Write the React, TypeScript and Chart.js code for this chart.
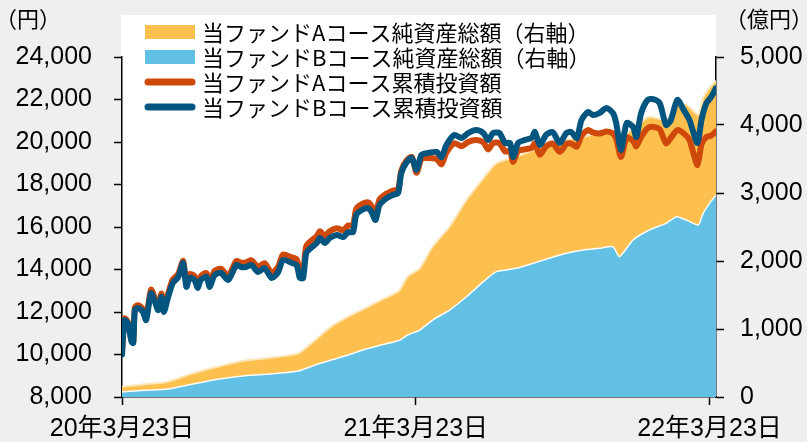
import React, { useEffect, useRef } from "react";
import { Chart, registerables } from "chart.js";

Chart.register(...registerables);

// x values: days since 2020-03-23
const lineDays = [
  0, 3, 7, 12, 14, 16, 20, 26, 30, 36,
  41, 45, 49, 52, 57, 63, 70, 76, 80, 84,
  90, 94, 98, 105, 109, 115, 123, 132, 142, 148,
  154, 161, 169, 177, 186, 194, 200, 211, 217, 221,
  225, 229, 236, 242, 246, 252, 258, 267, 275, 281,
  287, 291, 298, 306, 310, 315, 320, 329, 337, 343,
  347, 353, 360, 366, 372, 380, 391, 397, 403, 413,
  422, 430, 440, 449, 455, 461, 469, 476, 482, 486,
  492, 500, 509, 513, 519, 527, 535, 544, 552, 558,
  565, 571, 579, 585, 593, 602, 610, 614, 620, 627,
  635, 639, 645, 653, 660, 668, 676, 682, 690, 698,
  705, 709, 715, 720, 726, 732, 738,
];

// 当ファンドAコース累積投資額 (円)
const courseACumulative = [
  10050, 11700, 11550, 10650, 10600, 12220, 12320, 12130, 11760, 13050,
  12620, 12240, 12870, 12160, 12820, 13520, 13800, 14400, 13380, 13780,
  13690, 13320, 13690, 13830, 13370, 13930, 14030, 13700, 14400, 14320,
  14330, 14430, 14110, 14300, 13850, 14130, 14700, 14570, 14480, 13950,
  13960, 15100, 15380, 15570, 15800, 15580, 15800, 15940, 15850, 16070,
  16070, 16850, 17080, 17160, 16990, 16600, 17300, 17580, 17720, 17780,
  18650, 19100, 19300, 18550, 19200, 19250, 19200, 18950, 19500, 19940,
  19800, 20000, 20090, 19980, 19650, 19950, 19940, 19550, 19580, 19070,
  19580, 19650, 19720, 19940, 19400, 19800, 19930, 19540, 19900, 19930,
  19780, 20300, 20560, 20450, 20400, 20490, 20400, 20150, 19300, 20200,
  20050, 19800, 20240, 20650, 20710, 20600, 19940, 20200, 20560, 20400,
  20100, 19600, 18920, 19900, 20240, 20300, 20500,
];

// 当ファンドBコース累積投資額 (円)
const courseBCumulative = [
  10000, 11620, 11480, 10590, 10540, 12090, 12190, 12000, 11620, 12890,
  12470, 12090, 12710, 12000, 12660, 13360, 13650, 14310, 13180, 13600,
  13510, 13130, 13510, 13650, 13180, 13740, 13840, 13510, 14210, 14120,
  14120, 14210, 13880, 14070, 13600, 13880, 14450, 14310, 14210, 13600,
  13600, 14780, 15060, 15250, 15480, 15250, 15480, 15620, 15530, 15760,
  15760, 16560, 16800, 16890, 16710, 16330, 17040, 17360, 17510, 17600,
  18540, 19010, 19250, 18680, 19390, 19480, 19530, 19290, 19860, 20330,
  20190, 20420, 20560, 20420, 20090, 20420, 20420, 19950, 19950, 19290,
  19950, 20090, 20190, 20470, 19860, 20330, 20470, 19950, 20420, 20470,
  20190, 21040, 21410, 21270, 21360, 21600, 21360, 20890, 19620, 20890,
  20710, 20240, 21360, 21980, 22020, 21830, 20800, 21040, 21980, 21500,
  21040, 20560, 19950, 21040, 21830, 22120, 22540,
];

const areaDays = [
  0, 29, 57, 88, 119, 150, 179, 219, 240, 260,
  281, 302, 322, 344, 355, 370, 386, 407, 428, 449,
  465, 490, 511, 531, 552, 573, 593, 610, 618, 635,
  655, 676, 689, 701, 716, 722, 730, 738,
];

// 当ファンドBコース純資産総額 (億円)
const courseBNetAssets = [
  75, 98, 118, 190, 260, 309, 333, 382, 471, 544,
  618, 701, 765, 830, 912, 985, 1132, 1279, 1475, 1696,
  1843, 1892, 1966, 2040, 2113, 2162, 2187, 2210, 2064, 2309,
  2456, 2554, 2652, 2603, 2529, 2701, 2848, 2970,
];

// 当ファンドAコース純資産総額 (億円)
const courseANetAssets = [
  75, 89, 107, 158, 186, 220, 236, 260, 367, 490,
  563, 603, 661, 730, 858, 907, 1078, 1225, 1422, 1520,
  1593, 1642, 1666, 1666, 1666, 1666, 1690, 1690, 1736, 1642,
  1666, 1519, 1617, 1697, 1621, 1699, 1702, 1680,
];

const xTickDays = [0, 365, 730];
const xTickLabels = ["20年3月23日", "21年3月23日", "22年3月23日"];

const legendLabels = [
  "当ファンドAコース純資産総額（右軸）",
  "当ファンドBコース純資産総額（右軸）",
  "当ファンドAコース累積投資額",
  "当ファンドBコース累積投資額",
];
const leftUnit = "（円）";
const rightUnit = "（億円）";

const ORANGE_AREA = "#FDC04F";
const BLUE_AREA = "#61C0E4";
const ORANGE_LINE = "#CF4A0A";
const BLUE_LINE = "#02557F";
const BG = "#EEEFF1";

const FONT = "'Liberation Sans', 'Noto Sans CJK JP', sans-serif";
const CJK = "'Noto Sans CJK JP', sans-serif";

const pts = (xs: number[], ys: number[]) => xs.map((x, i) => ({ x, y: ys[i] }));

const decorPlugin = {
  id: "decor",
  beforeDraw(chart: any) {
    const { ctx, chartArea, width, height } = chart;
    ctx.save();
    ctx.fillStyle = BG;
    ctx.fillRect(0, 0, width, height);
    ctx.fillStyle = "#ffffff";
    ctx.fillRect(chartArea.left - 1, 15, chartArea.right - chartArea.left + 1, chartArea.bottom - 15);
    ctx.restore();
  },
  afterDraw(chart: any) {
    const { ctx } = chart;
    ctx.save();
    ctx.fillStyle = "#000";
    ctx.textBaseline = "middle";
    ctx.font = `22px ${CJK}`;
    ctx.textAlign = "left";
    ctx.fillText(leftUnit, -5, 19);
    ctx.textAlign = "right";
    ctx.fillText(rightUnit, 813, 19);

    const rows = [32, 57, 82, 107];
    const sx = 145;
    const sw = 50;
    const tx = 202;
    ctx.fillStyle = ORANGE_AREA;
    ctx.fillRect(sx, rows[0] - 7, sw, 14);
    ctx.fillStyle = BLUE_AREA;
    ctx.fillRect(sx, rows[1] - 7, sw, 14);
    ctx.lineCap = "round";
    ctx.lineWidth = 7;
    ctx.strokeStyle = ORANGE_LINE;
    ctx.beginPath();
    ctx.moveTo(sx + 3, rows[2]);
    ctx.lineTo(sx + sw - 3, rows[2]);
    ctx.stroke();
    ctx.strokeStyle = BLUE_LINE;
    ctx.beginPath();
    ctx.moveTo(sx + 3, rows[3]);
    ctx.lineTo(sx + sw - 3, rows[3]);
    ctx.stroke();

    ctx.fillStyle = "#000";
    ctx.textAlign = "left";
    ctx.font = `22px ${CJK}`;
    legendLabels.forEach((t, i) => ctx.fillText(t, tx, rows[i] + 1));
    ctx.restore();
  },
};

export default function App() {
  const ref = useRef<HTMLCanvasElement | null>(null);

  useEffect(() => {
    document.body.style.margin = "0";
    document.body.style.background = BG;
    const canvas = ref.current;
    if (!canvas) return;

    const axisGrid = {
      display: true,
      drawOnChartArea: false,
      drawTicks: true,
      tickLength: 8,
      tickColor: "#000",
      tickWidth: 1.5,
    };
    const axisBorder = { display: true, color: "#000", width: 1.5 };
    const tickFont = { family: FONT, size: 25 };

    const chart = new Chart(canvas, {
      type: "line",
      data: {
        datasets: [
          {
            label: legendLabels[3],
            data: pts(lineDays, courseBCumulative),
            yAxisID: "y",
            borderColor: BLUE_LINE,
            borderWidth: 6,
            pointRadius: 0,
            tension: 0.25,
            fill: false,
            borderJoinStyle: "round",
            borderCapStyle: "round",
          } as any,
          {
            label: legendLabels[2],
            data: pts(lineDays, courseACumulative),
            yAxisID: "y",
            borderColor: ORANGE_LINE,
            borderWidth: 6,
            pointRadius: 0,
            tension: 0.25,
            fill: false,
            borderJoinStyle: "round",
            borderCapStyle: "round",
          } as any,
          {
            label: legendLabels[1],
            data: pts(areaDays, courseBNetAssets),
            yAxisID: "y1",
            borderColor: "rgba(255,255,255,0.95)",
            borderWidth: 1.5,
            backgroundColor: BLUE_AREA,
            pointRadius: 0,
            tension: 0.2,
            fill: "origin",
          } as any,
          {
            label: legendLabels[0],
            data: pts(areaDays, courseANetAssets),
            yAxisID: "y1",
            borderColor: "#FFE6B8",
            borderWidth: 2,
            backgroundColor: ORANGE_AREA,
            pointRadius: 0,
            tension: 0.2,
            fill: "-1",
          } as any,
        ],
      },
      options: {
        responsive: false,
        animation: false,
        events: [],
        layout: { padding: { top: 57, left: 0, right: 0, bottom: 0 } },
        plugins: {
          legend: { display: false },
          tooltip: { enabled: false },
          title: { display: false },
        },
        scales: {
          x: {
            type: "linear",
            min: 0,
            max: 738,
            grid: axisGrid as any,
            border: axisBorder,
            afterBuildTicks: (scale: any) => {
              scale.ticks = xTickDays.map((v) => ({ value: v }));
            },
            afterFit: (scale: any) => {
              scale.height = 45;
            },
            ticks: {
              autoSkip: false,
              maxRotation: 0,
              minRotation: 0,
              padding: 9,
              color: "#000",
              font: tickFont,
              callback: (v: any) => {
                const i = xTickDays.indexOf(Number(v));
                return i >= 0 ? xTickLabels[i] : "";
              },
            },
          },
          y: {
            type: "linear",
            position: "left",
            min: 8000,
            max: 24000,
            grid: axisGrid as any,
            border: axisBorder,
            afterFit: (scale: any) => {
              scale.width = 122;
            },
            ticks: {
              stepSize: 2000,
              padding: 22,
              color: "#000",
              font: tickFont,
              callback: (v: any) => Number(v).toLocaleString("en-US"),
            },
          },
          y1: {
            type: "linear",
            position: "right",
            min: 0,
            max: 5000,
            stacked: true,
            grid: axisGrid as any,
            border: axisBorder,
            afterFit: (scale: any) => {
              scale.width = 91;
            },
            ticks: {
              stepSize: 1000,
              padding: 16,
              color: "#000",
              font: tickFont,
              callback: (v: any) => Number(v).toLocaleString("en-US"),
            },
          },
        },
      },
      plugins: [decorPlugin],
    });

    return () => chart.destroy();
  }, []);

  return (
    <div style={{ width: 807, height: 442 }}>
      <canvas ref={ref} width={807} height={442} style={{ display: "block" }} />
    </div>
  );
}
